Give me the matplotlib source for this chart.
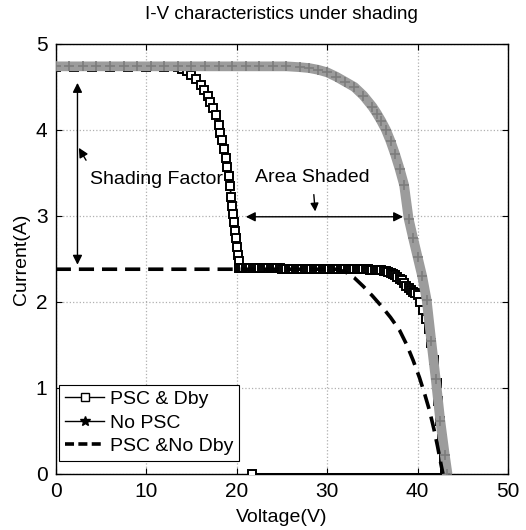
import matplotlib
matplotlib.use('Agg')
import matplotlib.pyplot as plt
from matplotlib.lines import Line2D

plt.rcParams['font.family'] = ['Liberation Sans', 'DejaVu Sans']

# No PSC (unshaded module)
v_nopsc = [0, 1.5, 3, 4.5, 6, 7.5, 9, 10.5, 12, 13.5, 15, 16.5, 18, 19.5, 21, 22.5, 24, 25.5,
           27, 28, 29, 30, 31, 32, 33, 34, 35, 35.5, 36, 36.5, 37, 37.5, 38, 38.5, 39, 39.5,
           40, 40.5, 41, 41.5, 42, 42.5, 43, 43.3]
i_nopsc = [4.74, 4.74, 4.74, 4.74, 4.74, 4.74, 4.74, 4.74, 4.74, 4.74, 4.74, 4.74, 4.74, 4.74,
           4.74, 4.74, 4.74, 4.74, 4.73, 4.72, 4.70, 4.67, 4.62, 4.56, 4.50, 4.40, 4.27, 4.19,
           4.10, 4.00, 3.87, 3.72, 3.55, 3.36, 2.97, 2.74, 2.52, 2.30, 2.02, 1.55, 1.10, 0.62,
           0.22, 0.0]

# PSC & bypass diode
v_dby = [0, 2, 4, 6, 8, 10, 12,
         13.5, 14.0, 14.5, 15.0, 15.5, 16.0, 16.4, 16.8, 17.1, 17.4, 17.7, 18.0, 18.2, 18.4,
         18.6, 18.8, 18.95, 19.1, 19.25, 19.4, 19.5, 19.6, 19.7, 19.8, 19.9, 20.0, 20.1, 20.2, 20.3,
         20.5, 20.75, 21.0, 21.25, 21.5, 21.75, 22.0, 22.25, 22.5, 22.75, 23.0, 23.25, 23.5,
         23.75, 24.0, 24.25, 24.5, 24.75, 25.0, 25.25, 25.5, 25.75, 26.0, 26.25, 26.5, 26.75,
         27.0, 27.25, 27.5, 27.75, 28.0, 28.25, 28.5, 28.75, 29.0, 29.25, 29.5, 29.75, 30.0,
         30.25, 30.5, 30.75, 31.0, 31.25, 31.5, 31.75, 32.0, 32.25, 32.5, 32.75, 33.0, 33.25,
         33.5, 33.75, 34.0, 34.25, 34.5, 34.75, 35.0, 35.25, 35.5, 35.75, 36.0, 36.25, 36.5,
         36.75, 37.0, 37.25, 37.5, 37.75, 38.0, 38.25, 38.5, 38.75, 39.0, 39.25, 39.5, 39.75,
         40.0, 40.3, 40.6, 40.9, 41.2, 41.5, 41.8, 42.1, 42.3, 42.5, 42.7, 42.9, 43.05, 21.7]
i_dby = [4.73, 4.73, 4.73, 4.73, 4.73, 4.73, 4.73,
         4.73, 4.71, 4.68, 4.64, 4.59, 4.52, 4.46, 4.39, 4.33, 4.26, 4.17, 4.06, 3.97, 3.88,
         3.78, 3.67, 3.57, 3.46, 3.35, 3.22, 3.12, 3.02, 2.93, 2.83, 2.74, 2.64, 2.55, 2.47, 2.40,
         2.39, 2.39, 2.39, 2.39, 2.39, 2.39, 2.39, 2.39, 2.39, 2.39, 2.39, 2.39, 2.39,
         2.39, 2.39, 2.39, 2.39, 2.39, 2.38, 2.38, 2.38, 2.38, 2.38, 2.38, 2.38, 2.38,
         2.38, 2.38, 2.38, 2.38, 2.38, 2.38, 2.38, 2.38, 2.38, 2.38, 2.38, 2.38, 2.38,
         2.38, 2.38, 2.38, 2.38, 2.38, 2.38, 2.38, 2.38, 2.38, 2.38, 2.38, 2.38, 2.38,
         2.38, 2.38, 2.38, 2.38, 2.38, 2.37, 2.37, 2.37, 2.37, 2.37, 2.37, 2.36, 2.36,
         2.35, 2.34, 2.33, 2.31, 2.29, 2.27, 2.25, 2.22, 2.19, 2.16, 2.14, 2.12, 2.10,
         2.08, 2.00, 1.90, 1.80, 1.68, 1.52, 1.32, 1.06, 0.85, 0.62, 0.40, 0.18, 0.0, 0.0]

# PSC without bypass diode
v_nodby = [0, 31, 32, 33, 34, 35, 36, 37, 38, 38.8, 39.5, 40.2, 40.8, 41.3, 41.8, 42.2, 42.6, 42.8]
i_nodby = [2.38, 2.38, 2.35, 2.28, 2.18, 2.07, 1.95, 1.82, 1.67, 1.50, 1.32, 1.12, 0.92, 0.74,
           0.52, 0.32, 0.10, 0.0]

fig = plt.figure(figsize=(5.26, 5.30), dpi=100)
ax = fig.add_axes([0.106, 0.106, 0.860, 0.811])

ax.plot(v_dby, i_dby, color='black', lw=1.2, marker='s', ms=5.5, mfc='white', mec='black',
        mew=1.4, zorder=3)
ax.plot(v_nopsc, i_nopsc, color='#9c9c9c', lw=7, solid_capstyle='butt', zorder=4)
ax.plot(v_nopsc, i_nopsc, ls='none', marker='+', ms=7, mew=1.2, color='#7c7c7c', zorder=5)
ax.plot(v_nodby, i_nodby, color='black', lw=2.6, ls=(0, (4.2, 2.2)), zorder=6)

ax.set_xlim(0, 50)
ax.set_ylim(0, 5)
ax.set_xticks([0, 10, 20, 30, 40, 50])
ax.set_yticks([0, 1, 2, 3, 4, 5])
ax.tick_params(direction='in', top=True, right=True, labelsize=15, length=4, pad=6)
ax.grid(True, ls=':', color='#b0b0b0', lw=0.9)
for s in ax.spines.values():
    s.set_linewidth(1.0)

ax.set_title('I-V characteristics under shading', fontsize=13.5, pad=18)
ax.set_xlabel('Voltage(V)', fontsize=14, labelpad=6)
ax.set_ylabel('Current(A)', fontsize=14, labelpad=4)

# annotations
ax.annotate('', xy=(2.4, 4.58), xytext=(2.4, 2.40),
            arrowprops=dict(arrowstyle='<|-|>', color='black', lw=1, mutation_scale=14))
ax.annotate('', xy=(2.4, 3.82), xytext=(3.5, 3.62),
            arrowprops=dict(arrowstyle='-|>', color='black', lw=1, mutation_scale=14))
ax.text(3.8, 3.42, 'Shading Factor', fontsize=14, va='center', ha='left')
ax.text(28.4, 3.45, 'Area Shaded', fontsize=14, va='center', ha='center')
ax.annotate('', xy=(20.7, 2.99), xytext=(38.7, 2.99),
            arrowprops=dict(arrowstyle='<|-|>', color='black', lw=1, mutation_scale=14))
ax.annotate('', xy=(28.7, 3.02), xytext=(28.5, 3.28),
            arrowprops=dict(arrowstyle='-|>', color='black', lw=1, mutation_scale=12))

handles = [
    Line2D([], [], color='black', lw=1, marker='s', ms=6, mfc='white', mec='black'),
    Line2D([], [], color='black', lw=1, marker='*', ms=7),
    Line2D([], [], color='black', lw=2.6, ls=(0, (2.5, 1.2))),
]
leg = ax.legend(handles, ['PSC & Dby', 'No PSC', 'PSC &No Dby'], loc='lower left',
                bbox_to_anchor=(0.008, 0.03), fontsize=14, frameon=True, fancybox=False,
                edgecolor='black', framealpha=1, handlelength=2.0, handletextpad=0.3,
                borderpad=0.3, labelspacing=0.3, borderaxespad=0)
leg.get_frame().set_linewidth(0.8)
leg.set_zorder(10)

fig.savefig('out.png', dpi=100)
